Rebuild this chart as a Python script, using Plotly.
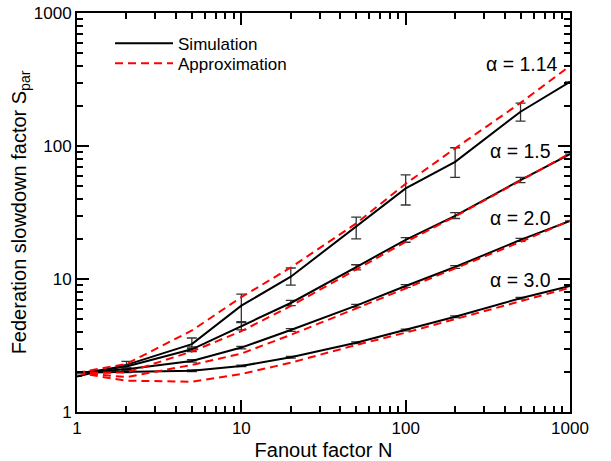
import math
import plotly.graph_objects as go

# Fanout factor N
N = [1, 2, 5, 10, 20, 50, 100, 200, 500, 1000]

# Simulation (black) values and error-bar bounds
sim_114 = [1.85, 2.26, 3.24, 6.3, 10.4, 24.7, 48, 76, 181, 304]
lo_114 = [None, 2.1, 3.0, 4.77, 9.0, 20.0, 36, 58, 154, None]
hi_114 = [None, 2.4, 3.6, 7.7, 12.1, 29.2, 60.6, 97, 210, None]

sim_15 = [1.95, 2.2, 2.96, 4.4, 6.6, 12.3, 19.7, 29.8, 55.5, 87]
lo_15 = [None, 2.15, 2.85, 4.14, 6.3, 11.7, 18.9, 28.5, 53, None]
hi_15 = [None, 2.25, 3.08, 4.7, 6.9, 12.8, 20.5, 31.5, 58, None]

sim_20 = [1.97, 2.1, 2.42, 3.05, 4.14, 6.3, 8.86, 12.3, 19.7, 27.3]
lo_20 = [None, 2.06, 2.37, 2.98, 4.04, 6.15, 8.65, 12.0, 19.2, None]
hi_20 = [None, 2.14, 2.47, 3.12, 4.24, 6.45, 9.07, 12.6, 20.2, None]

sim_30 = [1.97, 2.0, 2.04, 2.22, 2.58, 3.32, 4.14, 5.2, 7.17, 8.86]
lo_30 = [None, 1.98, 2.01, 2.19, 2.54, 3.27, 4.08, 5.12, 7.06, None]
hi_30 = [None, 2.02, 2.07, 2.25, 2.62, 3.37, 4.2, 5.28, 7.28, None]

# Approximation (red dashed)
app_114 = [1.97, 2.3, 4.1, 7.3, 12.2, 26.2, 52, 96, 211, 400]
app_15 = [1.97, 1.98, 2.85, 4.05, 6.27, 11.8, 19.0, 29.5, 55, 88]
app_20 = [1.97, 1.83, 2.26, 2.75, 3.8, 6.0, 8.5, 12.0, 19.0, 27.5]
app_30 = [1.97, 1.72, 1.69, 1.93, 2.35, 3.19, 3.95, 4.98, 6.75, 8.6]

alpha_labels = ["α = 1.14", "α = 1.5", "α = 2.0", "α = 3.0"]
tick_vals = [1, 10, 100, 1000]   # decade ticks, labelled 1, 10, 100, 1000

FONT = "Liberation Sans, Arial, sans-serif"

fig = go.Figure()

def err(vals, lo, hi):
    plus = [None if h is None else h - v for v, h in zip(vals, hi)]
    minus = [None if l is None else v - l for v, l in zip(vals, lo)]
    return plus, minus

sims = [(sim_114, lo_114, hi_114), (sim_15, lo_15, hi_15),
        (sim_20, lo_20, hi_20), (sim_30, lo_30, hi_30)]
apps = [app_114, app_15, app_20, app_30]

for i, (s, lo, hi) in enumerate(sims):
    plus, minus = err(s, lo, hi)
    fig.add_trace(go.Scatter(
        x=N, y=s, mode="lines", name="Simulation",
        legend="legend", showlegend=(i == 0),
        line=dict(color="black", width=2),
        error_y=dict(type="data", symmetric=False, array=plus, arrayminus=minus,
                     color="#333333", thickness=1.3, width=5),
    ))
for i, a in enumerate(apps):
    fig.add_trace(go.Scatter(
        x=N, y=a, mode="lines", name="Approximation",
        legend="legend2", showlegend=(i == 0),
        line=dict(color="#ff0000", width=2, dash="8px,5px"),
    ))

label_pos = [(0.9797, 0.871), (0.9655, 0.653), (0.9655, 0.487), (0.9655, 0.331)]
for txt, (px, py) in zip(alpha_labels, label_pos):
    fig.add_annotation(text=txt, x=px, y=py, xref="paper", yref="paper",
                       xanchor="right", yanchor="middle", showarrow=False,
                       font=dict(size=19.5, color="black", family=FONT))

rng = [math.log10(tick_vals[0]), math.log10(tick_vals[-1])]
axis_common = dict(
    type="log", range=rng, showline=True, linewidth=2, linecolor="black",
    mirror="allticks",
    ticks="inside", ticklen=12, tickwidth=1.5, tickcolor="black",
    tickmode="linear", tick0=0, dtick=1, exponentformat="none",
    showgrid=False, zeroline=False,
    tickfont=dict(size=17, color="black", family=FONT),
    minor=dict(ticks="inside", ticklen=6, tickwidth=1.5, tickcolor="black",
               showgrid=False, dtick="D1"),
    automargin=False,
)

fig.update_layout(
    xaxis=dict(title=dict(text="Fanout factor N",
               font=dict(size=20, color="black", family=FONT), standoff=6), **axis_common),
    yaxis=dict(title=dict(text="Federation slowdown factor S<sub>par</sub>",
               font=dict(size=20, color="black", family=FONT), standoff=2), **axis_common),
)

fig.update_layout(
    width=611, height=461,
    margin=dict(l=77, r=41, t=13, b=49),
    paper_bgcolor="white", plot_bgcolor="white",
    font=dict(family=FONT, color="black"),
    legend=dict(x=0.067, y=0.968, xanchor="left", yanchor="top",
                bgcolor="rgba(0,0,0,0)", borderwidth=0, itemwidth=58,
                font=dict(size=17, color="black", family=FONT)),
    legend2=dict(x=0.067, y=0.918, xanchor="left", yanchor="top",
                 bgcolor="rgba(0,0,0,0)", borderwidth=0, itemwidth=58,
                 font=dict(size=17, color="black", family=FONT)),
)

fig.write_html("out.html", config={"displayModeBar": False},
               post_script="document.body.style.margin='0';document.body.style.padding='0';"
                           "document.body.style.overflow='hidden';")
